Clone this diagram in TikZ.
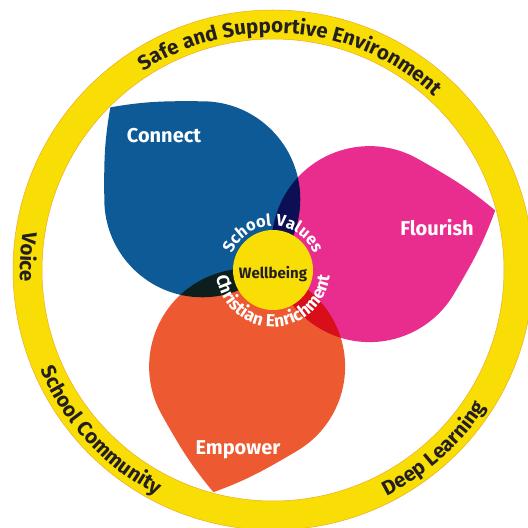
\documentclass[tikz,border=0pt]{standalone}
\usepackage{fontspec}
\setmainfont{Fira Sans}
\usepackage{xcolor}
\usepackage{tikz}
\usetikzlibrary{calc,decorations.text}

\definecolor{connectblue}{RGB}{14,90,150}
\definecolor{flourishpink}{RGB}{233,45,143}
\definecolor{empowerorange}{RGB}{237,89,48}
\definecolor{ringyellow}{RGB}{249,222,6}
\definecolor{ringedge}{RGB}{238,170,40}
\definecolor{labeldark}{RGB}{35,31,32}

\tikzset{
	petaltext/.style={text=white, font=\fontsize{20}{21}\selectfont\bfseries, anchor=base},
	ringtext/.style={decorate, decoration={text along path, text align=center, text color=labeldark,
		text={|\fontsize{20.5}{21}\selectfont\bfseries|#1}}},
	hubtext/.style 2 args={decorate, decoration={text along path, text align=center, text color=white,
		text={|\fontsize{#1}{17}\selectfont\bfseries|#2}}}
}

\begin{document}
\begin{tikzpicture}[x=1pt, y=1pt]
			\clip (0,0) rectangle (528,528);
			\coordinate(c) at (273,258);
			\fill[ringyellow, even odd rule] (c) circle (260) (c) circle (231);
			\draw[ringedge, line width=0.5pt] (c) circle (260) (c) circle (231);
			\foreach \ang/\col in {135/connectblue, 15/flourishpink, 255/empowerorange}
				\fill[\col, blend mode=multiply, shift={(c)}, rotate=\ang, xshift=100]
					(130,0) .. controls (109,30) and (95,44) .. (45:98)
					arc[start angle=45, end angle=315, radius=98]
					.. controls (95,-44) and (109,-30) .. (130,0) -- cycle;
			\fill[ringyellow] (c) circle (40);
			\path[ringtext={Safe and Supportive Environment}] (c) ++(145:237) arc[start angle=145, end angle=25, radius=237];
			\path[ringtext={Voice}] (c) ++(117:253) arc[start angle=117, end angle=237, radius=253];
			\path[ringtext={School Community}] (c) ++(163:253) arc[start angle=163, end angle=283, radius=253];
			\path[ringtext={Deep Learning}] (c) ++(252:253) arc[start angle=252, end angle=372, radius=253];
			\path[hubtext={16.5}{School Values}] (c) ++(190:44) arc[start angle=190, end angle=-10, radius=44];
			\path[hubtext={17.5}{Christian Enrichment}] (c) ++(150:57) arc[start angle=150, end angle=390, radius=57];
			\node[petaltext](connect) at (164,385) {Connect};
			\node[petaltext](flourish) at (437,292) {Flourish};
			\node[petaltext](empower) at (238,73) {Empower};
			\node[text=labeldark, font=\fontsize{15}{16}\selectfont\bfseries, anchor=base](wellbeing) at (273,249) {Wellbeing};
		\end{tikzpicture}
\end{document}
